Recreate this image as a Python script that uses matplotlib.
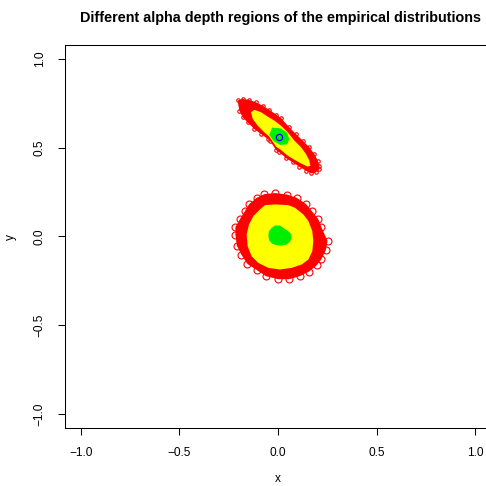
import numpy as np
import matplotlib
matplotlib.use("Agg")
import matplotlib.pyplot as plt

plt.rcParams["font.family"] = ["Liberation Sans", "DejaVu Sans"]

# depth regions of sample 1 (round cloud around the origin)
# outermost observations (alpha small) -> red, middle region -> yellow, deep core -> green
round_outer_x = [-0.014, 0.048, 0.095, 0.142, 0.173, 0.204, 0.220, 0.251, 0.243, 0.220,
                 0.196, 0.157, 0.110, 0.056, 0.002, -0.061, -0.108, -0.155, -0.186,
                 -0.209, -0.216, -0.216, -0.193, -0.169, -0.146, -0.108, -0.069]
round_outer_y = [0.245, 0.236, 0.218, 0.183, 0.141, 0.098, 0.053, -0.025, -0.076, -0.129,
                 -0.163, -0.198, -0.224, -0.241, -0.241, -0.224, -0.189, -0.155, -0.102,
                 -0.051, 0.010, 0.053, 0.098, 0.141, 0.183, 0.218, 0.239]
round_mid_x = [-0.015, 0.052, 0.086, 0.129, 0.154, 0.174, 0.179, 0.174, 0.154, 0.120, 0.069,
               0.010, -0.049, -0.100, -0.134, -0.154, -0.159, -0.147, -0.125, -0.091, -0.066]
round_mid_y = [0.181, 0.177, 0.162, 0.124, 0.087, 0.030, -0.026, -0.083, -0.130, -0.158,
               -0.177, -0.186, -0.177, -0.149, -0.111, -0.055, 0.011, 0.068, 0.115, 0.153, 0.177]
round_core_x = [-0.015, 0.010, 0.032, 0.052, 0.066, 0.069, 0.061, 0.044, 0.019, -0.007,
                -0.029, -0.044, -0.049, -0.046, -0.032]
round_core_y = [0.062, 0.062, 0.045, 0.030, 0.015, -0.007, -0.030, -0.045, -0.051, -0.049,
                -0.041, -0.023, 0.002, 0.030, 0.049]

# depth regions of sample 2 (elongated cloud, negatively correlated)
long_outer_x = [-0.205, -0.179, -0.146, -0.112, -0.078, -0.044, -0.010, 0.015, 0.057, 0.091,
                0.125, 0.159, 0.184, 0.202, 0.210, 0.210, 0.193, 0.168, 0.142, 0.108, 0.075,
                0.041, 0.007, -0.010, -0.041, -0.052, -0.086, -0.120, -0.154, -0.179, -0.196]
long_outer_y = [0.767, 0.776, 0.770, 0.757, 0.738, 0.714, 0.688, 0.668, 0.616, 0.578,
                0.541, 0.503, 0.465, 0.428, 0.399, 0.380, 0.362, 0.356, 0.371, 0.394, 0.418,
                0.442, 0.475, 0.488, 0.540, 0.550, 0.578, 0.606, 0.644, 0.672, 0.710]
long_mid_x = [-0.137, -0.120, -0.086, -0.052, -0.019, 0.015, 0.049, 0.083, 0.117, 0.142, 0.159,
              0.164, 0.151, 0.117, 0.083, 0.049, 0.015, -0.010, -0.044, -0.070, -0.103, -0.128]
long_mid_y = [0.701, 0.714, 0.701, 0.676, 0.654, 0.625, 0.588, 0.541, 0.503, 0.465, 0.428,
              0.399, 0.394, 0.412, 0.433, 0.456, 0.488, 0.507, 0.563, 0.588, 0.625, 0.663]
long_core_x = [-0.030, 0.012, 0.046, 0.057, 0.046, 0.012, -0.022, -0.044]
long_core_y = [0.614, 0.610, 0.586, 0.548, 0.520, 0.516, 0.538, 0.572]
long_median = (0.004, 0.563)

ticks = [-1.0, -0.5, 0.0, 0.5, 1.0]
tick_labels = ["\u22121.0", "\u22120.5", "0.0", "0.5", "1.0"]

fig = plt.figure(figsize=(4.86, 4.86), dpi=100)
ax = fig.add_axes([65 / 486, 1 - 428 / 486, (491 - 65) / 486, (428 - 45) / 486])
ax.set_xlim(-1.08, 1.08)
ax.set_ylim(-1.08, 1.08)


def draw_regions(ox, oy, mx, my, cx, cy, ms):
    ax.fill(ox, oy, color="#FF0000", lw=0, zorder=1)
    ax.plot(ox, oy, "o", ms=ms, mfc="none", mec="#FF0000", mew=0.8, zorder=1)
    ax.fill(mx, my, color="#FFFF00", lw=0, zorder=2)
    ax.fill(cx, cy, color="#00EE00", lw=0, zorder=3)


draw_regions(round_outer_x, round_outer_y, round_mid_x, round_mid_y,
             round_core_x, round_core_y, ms=5.0)
draw_regions(long_outer_x, long_outer_y, long_mid_x, long_mid_y,
             long_core_x, long_core_y, ms=2.5)
ax.plot(*long_median, "o", ms=4.5, mfc="none", mec="#0000FF", mew=0.9, zorder=4)

ax.set_xticks(ticks)
ax.set_xticklabels(tick_labels)
ax.set_yticks(ticks)
ax.set_yticklabels(tick_labels, rotation=90, va="center")
ax.tick_params(direction="out", length=5, width=0.75, labelsize=8.6, pad=9)
for s in ax.spines.values():
    s.set_linewidth(0.75)

ax.set_xlabel("x", fontsize=8.6, labelpad=10)
ax.set_ylabel("y", fontsize=8.6, labelpad=12)
fig.text(280 / 486, 1 - 18 / 486, "Different alpha depth regions of the empirical distributions",
         ha="center", va="center", fontsize=10.4, fontweight="bold")

fig.savefig("out.png", dpi=100)
